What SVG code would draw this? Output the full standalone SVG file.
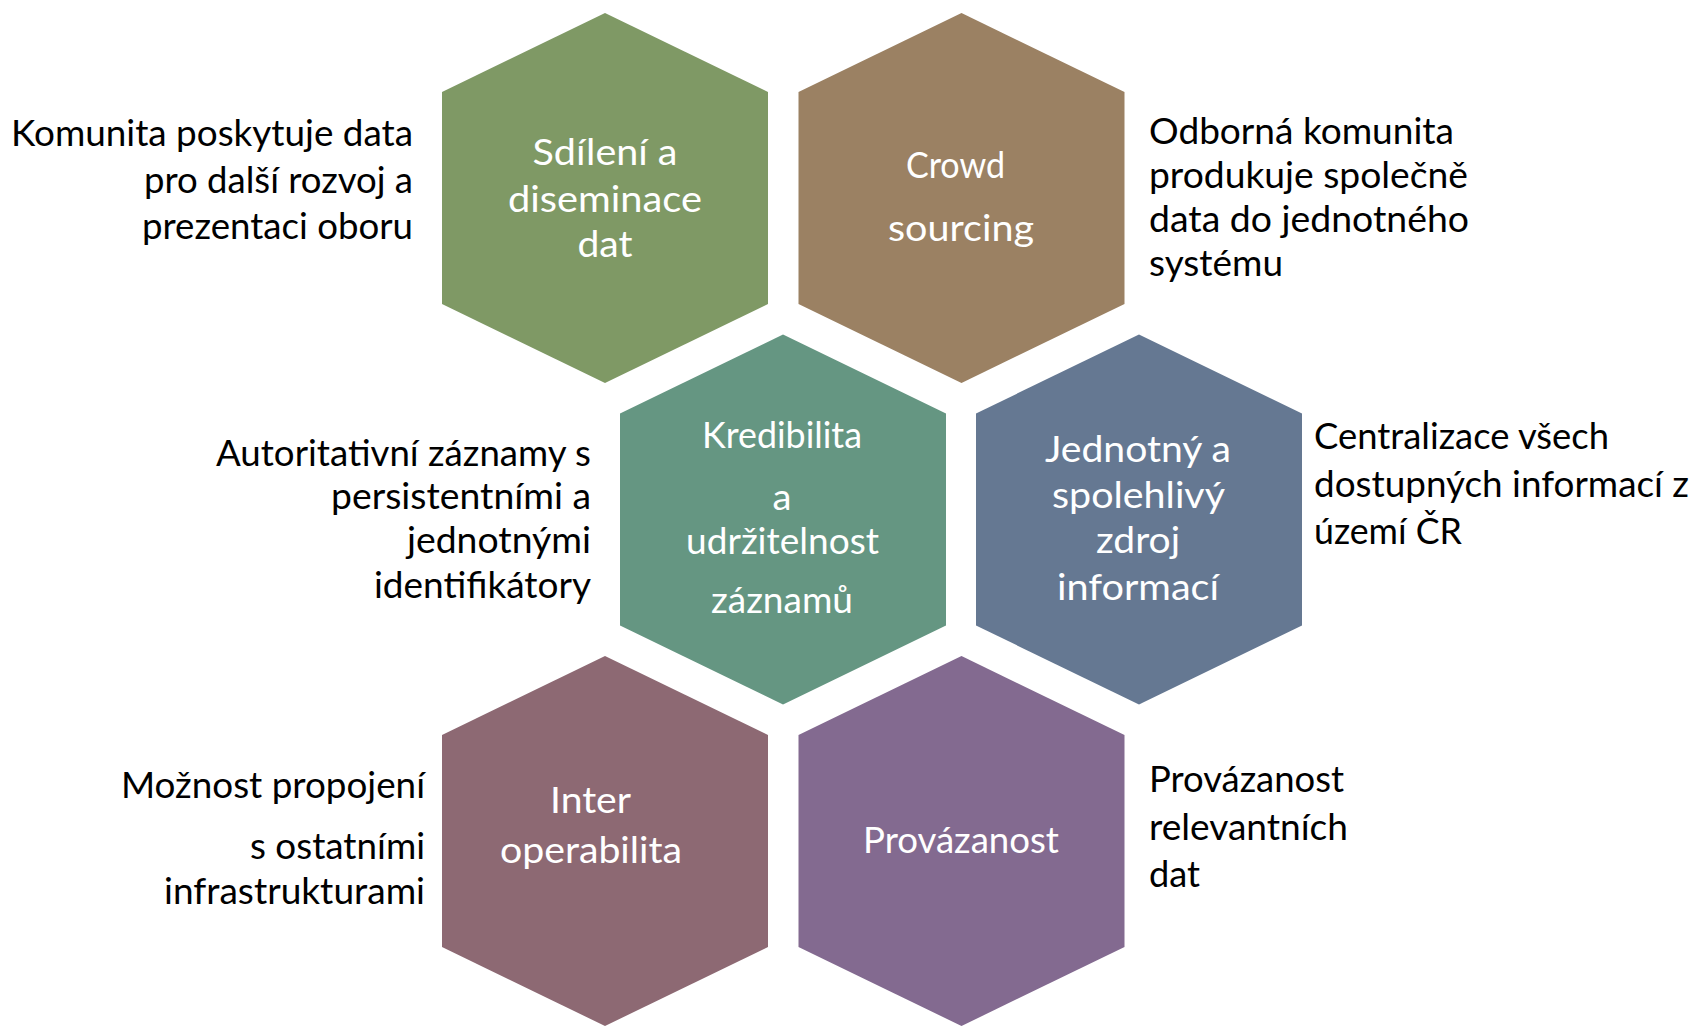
<svg xmlns="http://www.w3.org/2000/svg" width="1692" height="1026" viewBox="0 0 1692 1026">
<style>
.bg{fill:#ffffff}
.t{font-family:Lato,"Open Sans","Liberation Sans",sans-serif;font-size:37px}
.lbl{fill:#ffffff}
.desc{fill:#000000}
.green{fill:#7F9965}
.brown{fill:#9B8163}
.teal{fill:#659682}
.blue{fill:#657892}
.mauve{fill:#8D6973}
.purple{fill:#836A90}
</style>
<defs>
<polygon id="hex" points="0,0 163,79 163,291 0,370 -163,291 -163,79"/>
</defs>
<rect class="bg" x="0" y="0" width="1692" height="1026"/>
<g id="connectors"/>
<g id="node-sdileni">
<use href="#hex" class="green" x="605" y="13"/>
<text class="t lbl" x="532.5" y="165" textLength="145" lengthAdjust="spacingAndGlyphs">Sdílení a</text>
<text class="t lbl" x="508" y="211.5" textLength="194" lengthAdjust="spacingAndGlyphs">diseminace</text>
<text class="t lbl" x="577.5" y="257" textLength="55" lengthAdjust="spacingAndGlyphs">dat</text>
</g>
<g id="node-crowd">
<use href="#hex" class="brown" x="961.5" y="13"/>
<text class="t lbl" x="906" y="178" textLength="99" lengthAdjust="spacingAndGlyphs">Crowd</text>
<text class="t lbl" x="888" y="241" textLength="146" lengthAdjust="spacingAndGlyphs">sourcing</text>
</g>
<g id="node-kredibilita">
<use href="#hex" class="teal" x="783" y="334.5"/>
<text class="t lbl" x="702" y="448" textLength="160" lengthAdjust="spacingAndGlyphs">Kredibilita</text>
<text class="t lbl" x="772.5" y="509.5" textLength="19" lengthAdjust="spacingAndGlyphs">a</text>
<text class="t lbl" x="686" y="553.5" textLength="193" lengthAdjust="spacingAndGlyphs">udržitelnost</text>
<text class="t lbl" x="711" y="613" textLength="142" lengthAdjust="spacingAndGlyphs">záznamů</text>
</g>
<g id="node-jednotny">
<use href="#hex" class="blue" x="1139" y="334.5"/>
<text class="t lbl" x="1045" y="462" textLength="186" lengthAdjust="spacingAndGlyphs">Jednotný a</text>
<text class="t lbl" x="1052" y="508" textLength="173" lengthAdjust="spacingAndGlyphs">spolehlivý</text>
<text class="t lbl" x="1096" y="553" textLength="84" lengthAdjust="spacingAndGlyphs">zdroj</text>
<text class="t lbl" x="1057" y="600" textLength="162" lengthAdjust="spacingAndGlyphs">informací</text>
</g>
<g id="node-interoperabilita">
<use href="#hex" class="mauve" x="605" y="656"/>
<text class="t lbl" x="550" y="813" textLength="81" lengthAdjust="spacingAndGlyphs">Inter</text>
<text class="t lbl" x="500" y="863" textLength="182" lengthAdjust="spacingAndGlyphs">operabilita</text>
</g>
<g id="node-provazanost">
<use href="#hex" class="purple" x="961.5" y="656"/>
<text class="t lbl" x="863" y="853" textLength="196" lengthAdjust="spacingAndGlyphs">Provázanost</text>
</g>
<g id="desc-sdileni">
<text class="t desc" x="11" y="146" textLength="402" lengthAdjust="spacingAndGlyphs">Komunita poskytuje data</text>
<text class="t desc" x="144" y="192.5" textLength="269" lengthAdjust="spacingAndGlyphs">pro další rozvoj a</text>
<text class="t desc" x="142" y="239" textLength="271" lengthAdjust="spacingAndGlyphs">prezentaci oboru</text>
</g>
<g id="desc-crowd">
<text class="t desc" x="1149" y="144" textLength="305" lengthAdjust="spacingAndGlyphs">Odborná komunita</text>
<text class="t desc" x="1149" y="188" textLength="319" lengthAdjust="spacingAndGlyphs">produkuje společně</text>
<text class="t desc" x="1149" y="232" textLength="320" lengthAdjust="spacingAndGlyphs">data do jednotného</text>
<text class="t desc" x="1149" y="276" textLength="134" lengthAdjust="spacingAndGlyphs">systému</text>
</g>
<g id="desc-kredibilita">
<text class="t desc" x="216" y="466" textLength="375" lengthAdjust="spacingAndGlyphs">Autoritativní záznamy s</text>
<text class="t desc" x="331" y="509" textLength="260" lengthAdjust="spacingAndGlyphs">persistentními a</text>
<text class="t desc" x="407" y="553" textLength="184" lengthAdjust="spacingAndGlyphs">jednotnými</text>
<text class="t desc" x="374" y="597.5" textLength="217" lengthAdjust="spacingAndGlyphs">identifikátory</text>
</g>
<g id="desc-jednotny">
<text class="t desc" x="1314" y="449" textLength="295" lengthAdjust="spacingAndGlyphs">Centralizace všech</text>
<text class="t desc" x="1314" y="496.5" textLength="375" lengthAdjust="spacingAndGlyphs">dostupných informací z</text>
<text class="t desc" x="1314" y="544" textLength="148" lengthAdjust="spacingAndGlyphs">území ČR</text>
</g>
<g id="desc-interoperabilita">
<text class="t desc" x="121" y="798" textLength="304" lengthAdjust="spacingAndGlyphs">Možnost propojení</text>
<text class="t desc" x="250" y="859" textLength="175" lengthAdjust="spacingAndGlyphs">s ostatními</text>
<text class="t desc" x="164" y="903.5" textLength="261" lengthAdjust="spacingAndGlyphs">infrastrukturami</text>
</g>
<g id="desc-provazanost">
<text class="t desc" x="1149" y="791.5" textLength="195" lengthAdjust="spacingAndGlyphs">Provázanost</text>
<text class="t desc" x="1149" y="839.5" textLength="199" lengthAdjust="spacingAndGlyphs">relevantních</text>
<text class="t desc" x="1149" y="887" textLength="51" lengthAdjust="spacingAndGlyphs">dat</text>
</g>
</svg>
